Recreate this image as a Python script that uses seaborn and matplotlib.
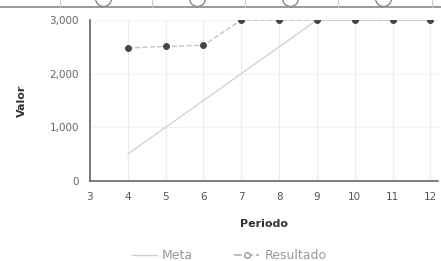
import numpy as np
import pandas as pd
import matplotlib
matplotlib.use('Agg')
import matplotlib.pyplot as plt
import seaborn as sns
from matplotlib.lines import Line2D

periodos = [4, 5, 6, 7, 8, 9, 10, 11, 12]
meta = [500, 1000, 1500, 2000, 2500, 3000, 3000, 3000, 3000]
resultado = [2480, 2510, 2530, 3000, 3000, 3000, 3000, 3000, 3000]
x_ticks = [3, 4, 5, 6, 7, 8, 9, 10, 11, 12]
y_ticks = [0, 1000, 2000, 3000]
y_labels = ['0', '1,000', '2,000', '3,000']

df = pd.DataFrame({'Periodo': periodos, 'Meta': meta, 'Resultado': resultado})

sns.set_style('white')
plt.rcParams['font.family'] = ['DejaVu Sans']

fig = plt.figure(figsize=(4.41, 2.61), dpi=100)
ax = fig.add_axes([0.204, 0.307, 0.789, 0.616])

sns.lineplot(data=df, x='Periodo', y='Meta', ax=ax, color='#d3d3d3', linewidth=1.0)
sns.lineplot(data=df, x='Periodo', y='Resultado', ax=ax, color='#c4c4c4', linewidth=1.0,
             linestyle='--', marker='o', markersize=4.2, markerfacecolor='#444444',
             markeredgecolor='#444444')
# clip markers at the top edge like the original
for ln in ax.lines:
    ln.set_clip_path(ax.patch)

ax.set_xlim(3, 12.2)
ax.set_ylim(0, 3000)
ax.set_xticks(x_ticks)
ax.set_xticklabels([str(t) for t in x_ticks], fontsize=7.5, color='#555555')
ax.set_yticks(y_ticks)
ax.set_yticklabels(y_labels, fontsize=7.5, color='#666666')
ax.tick_params(length=0, pad=8)
ax.grid(axis='x', color='#ececec', linewidth=0.8)
ax.grid(axis='y', color='#f3f3f3', linewidth=0.8)
for side in ['top', 'right']:
    ax.spines[side].set_visible(False)
for side in ['left', 'bottom']:
    ax.spines[side].set_color('#666666')
    ax.spines[side].set_linewidth(1.2)
ax.set_xlabel('Periodo', fontsize=8, fontweight='bold', color='#333333', labelpad=12)
ax.set_ylabel('Valor', fontsize=8, fontweight='bold', color='#333333', labelpad=16)

handles = [Line2D([], [], color='#d0d0d0', linewidth=1.0),
           Line2D([], [], color='#bdbdbd', linestyle='--', marker='o', markersize=4,
                  markerfacecolor='white', markeredgecolor='#999999')]
fig.legend(handles, ['Meta', 'Resultado'], loc='center', bbox_to_anchor=(0.52, 0.02),
           ncol=2, frameon=False, fontsize=9, labelcolor='#999999',
           handlelength=2.0, handletextpad=0.4, columnspacing=3.3)

# cropped strip of a neighbouring element at the top
fig.add_artist(Line2D([0, 1], [0.973, 0.973], transform=fig.transFigure, color='#999999', linewidth=1.4))
for xp in [60, 152, 245, 338, 432]:
    fig.add_artist(Line2D([xp / 441, xp / 441], [0.973, 1.0], transform=fig.transFigure,
                          color='#cccccc', linewidth=0.8))
for xp in [103, 197, 290, 383]:
    fig.add_artist(Line2D([xp / 441], [1.008], transform=fig.transFigure, marker='o',
                          markersize=11.5, markerfacecolor='white', markeredgecolor='#888888',
                          markeredgewidth=1.0, linestyle='none', clip_on=False))

fig.savefig('out.png', dpi=100)
